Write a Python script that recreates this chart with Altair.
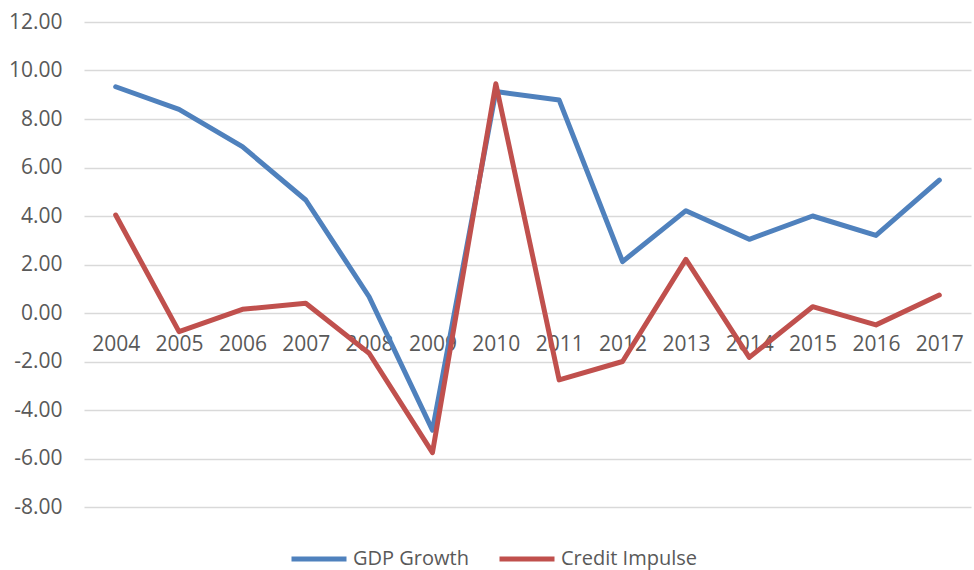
import altair as alt
import pandas as pd

years = [str(y) for y in range(2004, 2018)]
gdp_growth = [9.33, 8.40, 6.86, 4.66, 0.67, -4.83, 9.13, 8.78, 2.12, 4.22, 3.04, 4.00, 3.20, 5.48]
credit_impulse = [4.04, -0.77, 0.15, 0.40, -1.66, -5.76, 9.45, -2.76, -2.00, 2.21, -1.83, 0.26, -0.49, 0.74]
series_names = ["GDP Growth", "Credit Impulse"]
series_colors = ["#4f81bd", "#c0504d"]

rows = []
for name, vals in zip(series_names, [gdp_growth, credit_impulse]):
    for i, (yr, v) in enumerate(zip(years, vals)):
        rows.append({"Year": yr, "Value": v, "Series": name, "order": i})
df = pd.DataFrame(rows)

FONT = "Open Sans"
LABEL = "#595959"

chart = alt.Chart(df).mark_line(strokeWidth=5, strokeCap="round", strokeJoin="round").encode(
    x=alt.X("Year:O", sort=years,
            scale=alt.Scale(paddingInner=0, paddingOuter=0),
            axis=alt.Axis(title=None, labelAngle=0, domain=False, ticks=False, tickSize=0,
                          offset=-194, labelPadding=31, labelBaseline="middle",
                          labelFont=FONT, labelFontSize=21, labelColor=LABEL, grid=False)),
    y=alt.Y("Value:Q",
            scale=alt.Scale(domain=[-8, 12], nice=False),
            axis=alt.Axis(title=None, values=list(range(-8, 13, 2)),
                          labelExpr="replace(format(datum.value, '.2f'), '\u2212', '-')",
                          domain=False, ticks=False, tickSize=0, labelPadding=22,
                          labelFont=FONT, labelFontSize=21, labelColor=LABEL,
                          gridColor="#d9d9d9", gridWidth=1.5)),
    color=alt.Color("Series:N",
                    scale=alt.Scale(domain=series_names, range=series_colors),
                    legend=alt.Legend(title=None, orient="none", direction="horizontal",
                                      legendX=205, legendY=525, clipHeight=24,
                                      symbolType="stroke", symbolSize=3025,
                                      symbolStrokeWidth=5,
                                      labelFont=FONT,
                                      labelFontSize=20, labelColor=LABEL,
                                      labelOffset=4, columnPadding=28)),
    order=alt.Order("order:Q"),
).properties(
    width=887, height=485,
    autosize=alt.AutoSizeParams(type="none"),
    padding={"left": 84, "top": 22, "right": 3, "bottom": 63},
).configure_view(stroke=None)

chart.save("out.html", embed_options={"renderer": "svg", "actions": False})
